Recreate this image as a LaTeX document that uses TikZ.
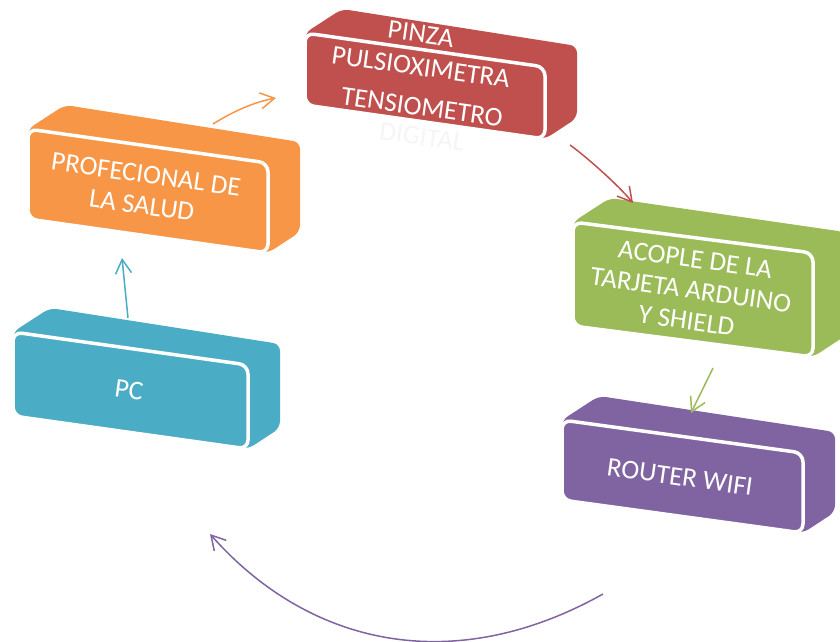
\documentclass[tikz,border=0pt]{standalone}
\usepackage{fontspec}
\setmainfont{Carlito}
\usetikzlibrary{arrows.meta}
\definecolor{cteal}{RGB}{75,172,198}
\definecolor{corange}{RGB}{247,150,70}
\definecolor{cred}{RGB}{192,80,77}
\definecolor{cgreen}{RGB}{155,187,89}
\definecolor{cpurple}{RGB}{128,100,162}
\newcommand\blockshape[6]{%
  \fill[#6, rounded corners=7pt] (#1,{#2+#4}) -- (#1,#2) -- ({#1+37},{#2-24})
    -- ({#1+#3+32},{#2+#5-21}) -- ({#1+#3+32},{#2+#5+#4-21}) -- ({#1+#3},{#2+#5+#4}) -- cycle;
  \filldraw[fill=#6, draw=white, line width=3.5pt, rounded corners=9pt]
    (#1,#2) -- ({#1+#3},{#2+#5}) -- ({#1+#3},{#2+#5+#4}) -- (#1,{#2+#4}) -- cycle;
}
\tikzset{
  lbl/.style={text=white, font=\fontsize{27}{31}\selectfont, rotate=-8, align=center, inner sep=0pt},
  arr/.style={line width=1.5pt, -{Straight Barb[length=14pt,width=16pt]}}
}
\begin{document}
\begin{tikzpicture}[x=1pt,y=-1pt]
\clip (0,0) rectangle (840,642);
% blocks
\blockshape{13}{332}{235}{84}{33}{cteal}
\blockshape{28}{129}{240}{90}{34}{corange}
\blockshape{305}{33}{240}{72}{34}{cred}
\blockshape{573}{222}{240}{104}{31}{cgreen}
\blockshape{562}{420}{241}{80}{33}{cpurple}
% labels
\node[lbl] (pc) at (129,390) {PC};
\node[lbl] (prof) at (144,190) {PROFECIONAL DE\\LA SALUD};
\node[lbl] (pinza1) at (421,34) {PINZA};
\node[lbl] (pinza2) at (421,67) {PULSIOXIMETRA};
\node[lbl] (pinza3) at (422,107) {TENSIOMETRO};
\node[lbl, text=black!4] (pinza4) at (422,137) {DIGITAL};
\node[lbl] (acople) at (691,290) {ACOPLE DE LA\\TARJETA ARDUINO\\Y SHIELD};
\node[lbl] (router) at (680,477) {ROUTER WIFI};
% connector ends
\coordinate (a1s) at (128,318);
\coordinate (a1e) at (122,258);
\coordinate (a2s) at (213,124);
\coordinate (a2e) at (276,98);
\coordinate (a3s) at (570,145);
\coordinate (a3e) at (633,203);
\coordinate (a4s) at (713,368);
\coordinate (a4e) at (691,413);
\coordinate (a5s) at (603,594);
\coordinate (a5e) at (210,534);
% connectors
\draw[arr, cteal] (a1s) -- (a1e);
\draw[arr, corange] (a2s) .. controls (232,112) and (254,102) .. (a2e);
\draw[arr, cred] (a3s) .. controls (588,158) and (619,186) .. (a3e);
\draw[arr, cgreen] (a4s) -- (a4e);
\draw[arr, cpurple] (a5s) .. controls (453,678) and (309,646) .. (a5e);
\end{tikzpicture}
\end{document}
